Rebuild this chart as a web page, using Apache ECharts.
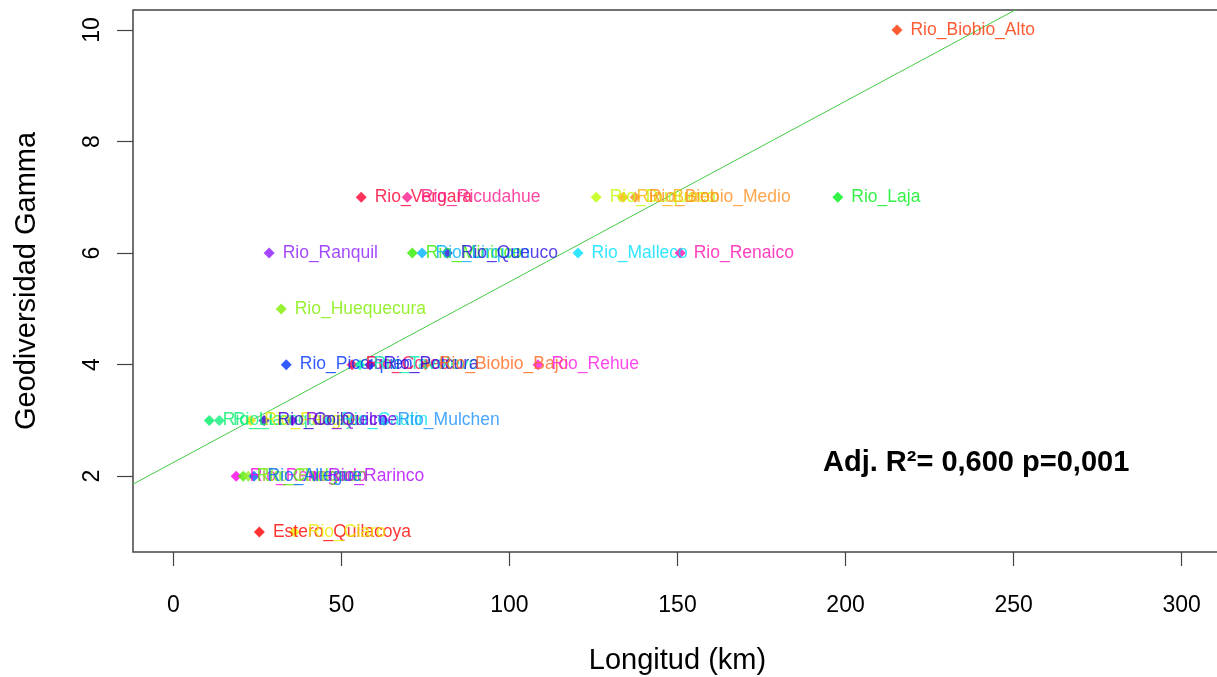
<!DOCTYPE html>
<html>
<head>
<meta charset="utf-8">
<script src="https://cdn.jsdelivr.net/npm/echarts@6/dist/echarts.min.js"></script>
<style>html,body{margin:0;padding:0;background:#fff}#c{width:1217px;height:677px}</style>
</head>
<body>
<div id="c"></div>
<script>
const names = ["Rio_Biobio_Alto","Rio_Vergara","Rio_Ricudahue","Rio_Duqueco","Rio_Bureo","Rio_Biobio_Medio","Rio_Laja",
  "Rio_Ranquil","Rio_Mininco","Rio_Lirquen","Rio_Queuco","Rio_Malleco","Rio_Renaico",
  "Rio_Huequecura",
  "Rio_Picoiquen","Rio_Coreo","Rio_Tavolevo","Rio_Polcura","Rio_Biobio_Bajo","Rio_Rehue",
  "Rio_Lia","Rio_Lonquimay","Rio_Pangue","Rio_Coihueco","Rio_Cautin","Rio_Quilme","Rio_Mulchen",
  "Rio_Renegado","Rio_Cholguan","Rio_Rucue","Rio_Allegue","Rio_Rarinco",
  "Estero_Quilacoya","Rio_Claro"];
const longitud = [215.3,55.9,69.6,125.8,133.8,137.4,197.7,
  28.5,71.1,74.0,81.5,120.4,150.8,
  32.1,
  33.6,53.2,55.5,58.5,75.0,108.5,
  10.7,13.7,23.0,27.0,46.0,35.4,62.7,
  18.7,20.8,22.3,24.0,42.0,
  25.6,36.0];
const geodiversidad = [10,7,7,7,7,7,7,
  6,6,6,6,6,6,
  5,
  4,4,4,4,4,4,
  3,3,3,3,3,3,3,
  2,2,2,2,2,
  1,1];
const palette = ["#FF3300","#FF0033","#FF1A8C","#BFFF00","#FFB300","#FF9020","#00F01A",
  "#8C1AFF","#33EE00","#00B3FF","#2A10E0","#00E0FF","#FF10B0",
  "#80EE00",
  "#0033FF","#FF004D","#00F0B0","#2A00E0","#FF661A","#FF1AE6",
  "#00EE66","#10F080","#E6E600","#3300CC","#00E6E6","#7A00E6","#1A90FF",
  "#FF00E6","#4DEE00","#99EE33","#0066FF","#B300FF",
  "#FF0000","#EEEE00"];
const xTicks = [0,50,100,150,200,250,300];
const yTicks = [2,4,6,8,10];
const regIntercept = 2.245;
const regSlope = 0.0324;
const xMin = -12, xMax = 312, yMin = 0.64, yMax = 10.36;

const pts = names.map((n,i)=>({
  name:n, value:[longitud[i], geodiversidad[i]],
  itemStyle:{color:palette[i]},
  label:{color:palette[i]}
}));
const font = '"Liberation Sans", Arial, sans-serif';
const chart = echarts.init(document.getElementById('c'));
chart.setOption({
  animation:false,
  backgroundColor:'#fff',
  grid:{left:133, top:10, right:-5, bottom:125, outerBoundsMode:'none', containLabel:false,
    show:true, borderColor:'#444', borderWidth:1.5, backgroundColor:'transparent'},
  xAxis:{type:'value', min:xMin, max:xMax,
    name:'Longitud (km)', nameLocation:'middle', nameGap:94,
    nameTextStyle:{fontSize:29, color:'#000', fontFamily:font},
    axisLine:{show:false, onZero:false},
    splitLine:{show:false},
    axisTick:{show:true, length:14, customValues:xTicks, lineStyle:{color:'#444', width:1.2}},
    axisLabel:{customValues:xTicks, fontSize:23, color:'#000', margin:42, fontFamily:font}
  },
  yAxis:{type:'value', min:yMin, max:yMax,
    name:'Geodiversidad Gamma', nameLocation:'middle', nameGap:92, nameRotate:90,
    nameTextStyle:{fontSize:29, color:'#000', fontFamily:font},
    axisLine:{show:false, onZero:false},
    splitLine:{show:false},
    axisTick:{show:true, length:16, customValues:yTicks, lineStyle:{color:'#444', width:1.2}},
    axisLabel:{customValues:yTicks, rotate:90, fontSize:23, color:'#000', margin:29, fontFamily:font}
  },
  series:[
    {type:'line', data:[[xMin, regIntercept+regSlope*xMin],[xMax, regIntercept+regSlope*xMax]],
     showSymbol:false, clip:true, lineStyle:{color:'#44CC44', width:1}, z:1, silent:true},
    {type:'scatter', data:pts, symbol:'diamond', symbolSize:11, z:2,
     label:{show:true, position:'right', distance:8, formatter:'{b}', fontSize:17.5, fontFamily:font}}
  ],
  graphic:[{type:'text', left:823, top:448,
    style:{text:'Adj. R²= 0,600 p=0,001', font:'bold 29px "Liberation Sans", Arial, sans-serif', fill:'#000'}}]
});
</script>
</body>
</html>
